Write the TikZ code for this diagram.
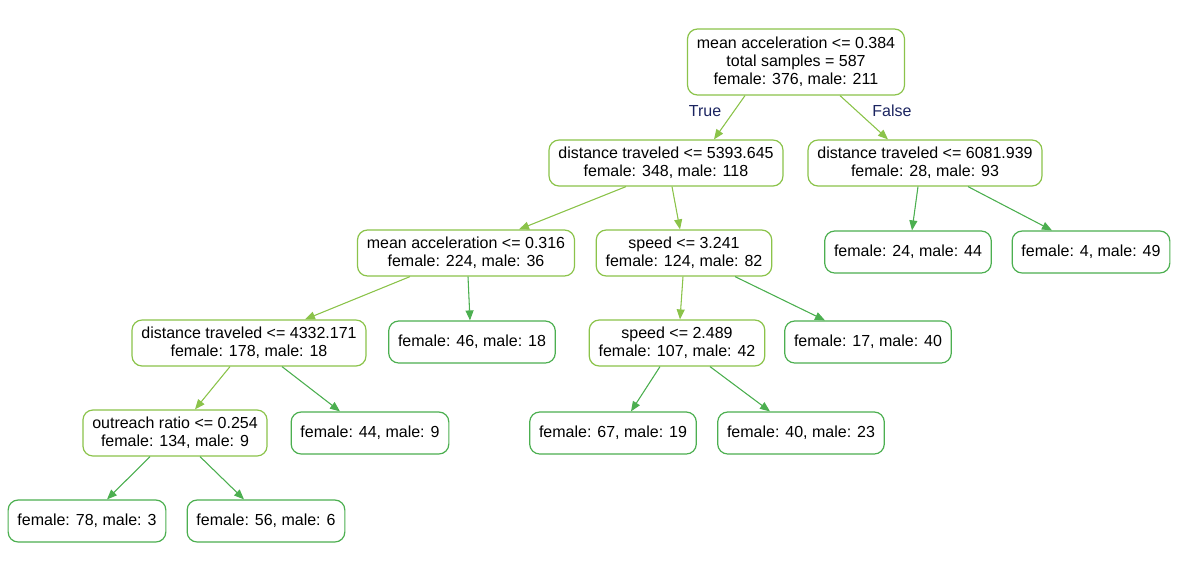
\documentclass[tikz,border=0pt]{standalone}
\usepackage{fontspec}
\setmainfont{Liberation Sans}
\usetikzlibrary{arrows.meta}

\definecolor{splitgreen}{HTML}{8BC34A}
\definecolor{leafgreen}{HTML}{4CAF50}
\definecolor{labelnavy}{HTML}{1B2460}

\begin{document}
\begin{tikzpicture}[x=0.75pt, y=-0.75pt, >={Triangle[length=7.5pt, width=6pt]},
    split/.style={rectangle, draw=splitgreen, line width=0.9pt, fill=white, rounded corners=7.5pt, align=center,
                font=\fontsize{12}{13.5}\selectfont, inner xsep=7pt, inner ysep=4pt, minimum height=34.5pt},
    leaf/.style={rectangle, draw=leafgreen, line width=0.9pt, fill=white, rounded corners=7.5pt, align=center,
                font=\fontsize{12}{13.5}\selectfont, inner xsep=7pt, minimum height=31.5pt},
    toSplit/.style={->, draw=splitgreen, fill=splitgreen, line width=0.8pt},
    toLeaf/.style={->, draw=leafgreen, fill=leafgreen, line width=0.8pt},
    branch/.style={font=\fontsize{12}{13.5}\selectfont, text=labelnavy}]

    \useasboundingbox (0,0) rectangle (1179,576);

    \node[split, minimum height=49.5pt] (root) at (796,62) {mean acceleration <= 0.384\\total samples = 587\\female: 376, male: 211};

    \node[split] (dist1) at (666,163) {distance traveled <= 5393.645\\female: 348, male: 118};
    \node[split] (dist2) at (925,163) {distance traveled <= 6081.939\\female: 28, male: 93};

    \node[split] (acc2) at (466,253) {mean acceleration <= 0.316\\female: 224, male: 36};
    \node[split] (speed1) at (684,253) {speed <= 3.241\\female: 124, male: 82};
    \node[leaf] (leafA) at (908,252) {female: 24, male: 44};
    \node[leaf] (leafB) at (1091,252) {female: 4, male: 49};

    \node[split] (dist3) at (249,343) {distance traveled <= 4332.171\\female: 178, male: 18};
    \node[leaf] (leafC) at (472,342) {female: 46, male: 18};
    \node[split] (speed2) at (677,343) {speed <= 2.489\\female: 107, male: 42};
    \node[leaf] (leafD) at (868,342) {female: 17, male: 40};

    \node[split] (ratio) at (175,433) {outreach ratio <= 0.254\\female: 134, male: 9};
    \node[leaf] (leafE) at (370,433) {female: 44, male: 9};
    \node[leaf] (leafF) at (613,433) {female: 67, male: 19};
    \node[leaf] (leafG) at (801,433) {female: 40, male: 23};

    \node[leaf] (leafH) at (87,521) {female: 78, male: 3};
    \node[leaf] (leafI) at (266,521) {female: 56, male: 6};

    % edges, coloured like the node they point to
    \draw[toSplit] ([xshift=-38.25]root.south) -- ([xshift=36]dist1.north) node[pos=0.35, left, branch, xshift=-6] {True};
    \draw[toSplit] ([xshift=33]root.south) -- ([xshift=-27.75]dist2.north) node[pos=0.35, right, branch, xshift=8] {False};
    \draw[toSplit] ([xshift=-30]dist1.south) -- ([xshift=39.75]acc2.north);
    \draw[toSplit] ([xshift=4.5]dist1.south) -- ([xshift=-3]speed1.north);
    \draw[toLeaf] ([xshift=-5.25]dist2.south) -- ([xshift=3]leafA.north);
    \draw[toLeaf] ([xshift=32.25]dist2.south) -- ([xshift=-29.25]leafB.north);
    \draw[toSplit] ([xshift=-42]acc2.south) -- ([xshift=42]dist3.north);
    \draw[toLeaf] ([xshift=1.5]acc2.south) -- ([xshift=-1.5]leafC.north);
    \draw[toSplit] ([xshift=-0.75]speed1.south) -- ([xshift=2.25]speed2.north);
    \draw[toLeaf] ([xshift=38.25]speed1.south) -- ([xshift=-32.25]leafD.north);
    \draw[toSplit] ([xshift=-14.25]dist3.south) -- ([xshift=15]ratio.north);
    \draw[toLeaf] ([xshift=24.75]dist3.south) -- ([xshift=-22.5]leafE.north);
    \draw[toLeaf] ([xshift=-12.75]speed2.south) -- ([xshift=13.5]leafF.north);
    \draw[toLeaf] ([xshift=24.75]speed2.south) -- ([xshift=-23.25]leafG.north);
    \draw[toLeaf] ([xshift=-18.75]ratio.south) -- ([xshift=15]leafH.north);
    \draw[toLeaf] ([xshift=18.75]ratio.south) -- ([xshift=-16.5]leafI.north);
\end{tikzpicture}
\end{document}
